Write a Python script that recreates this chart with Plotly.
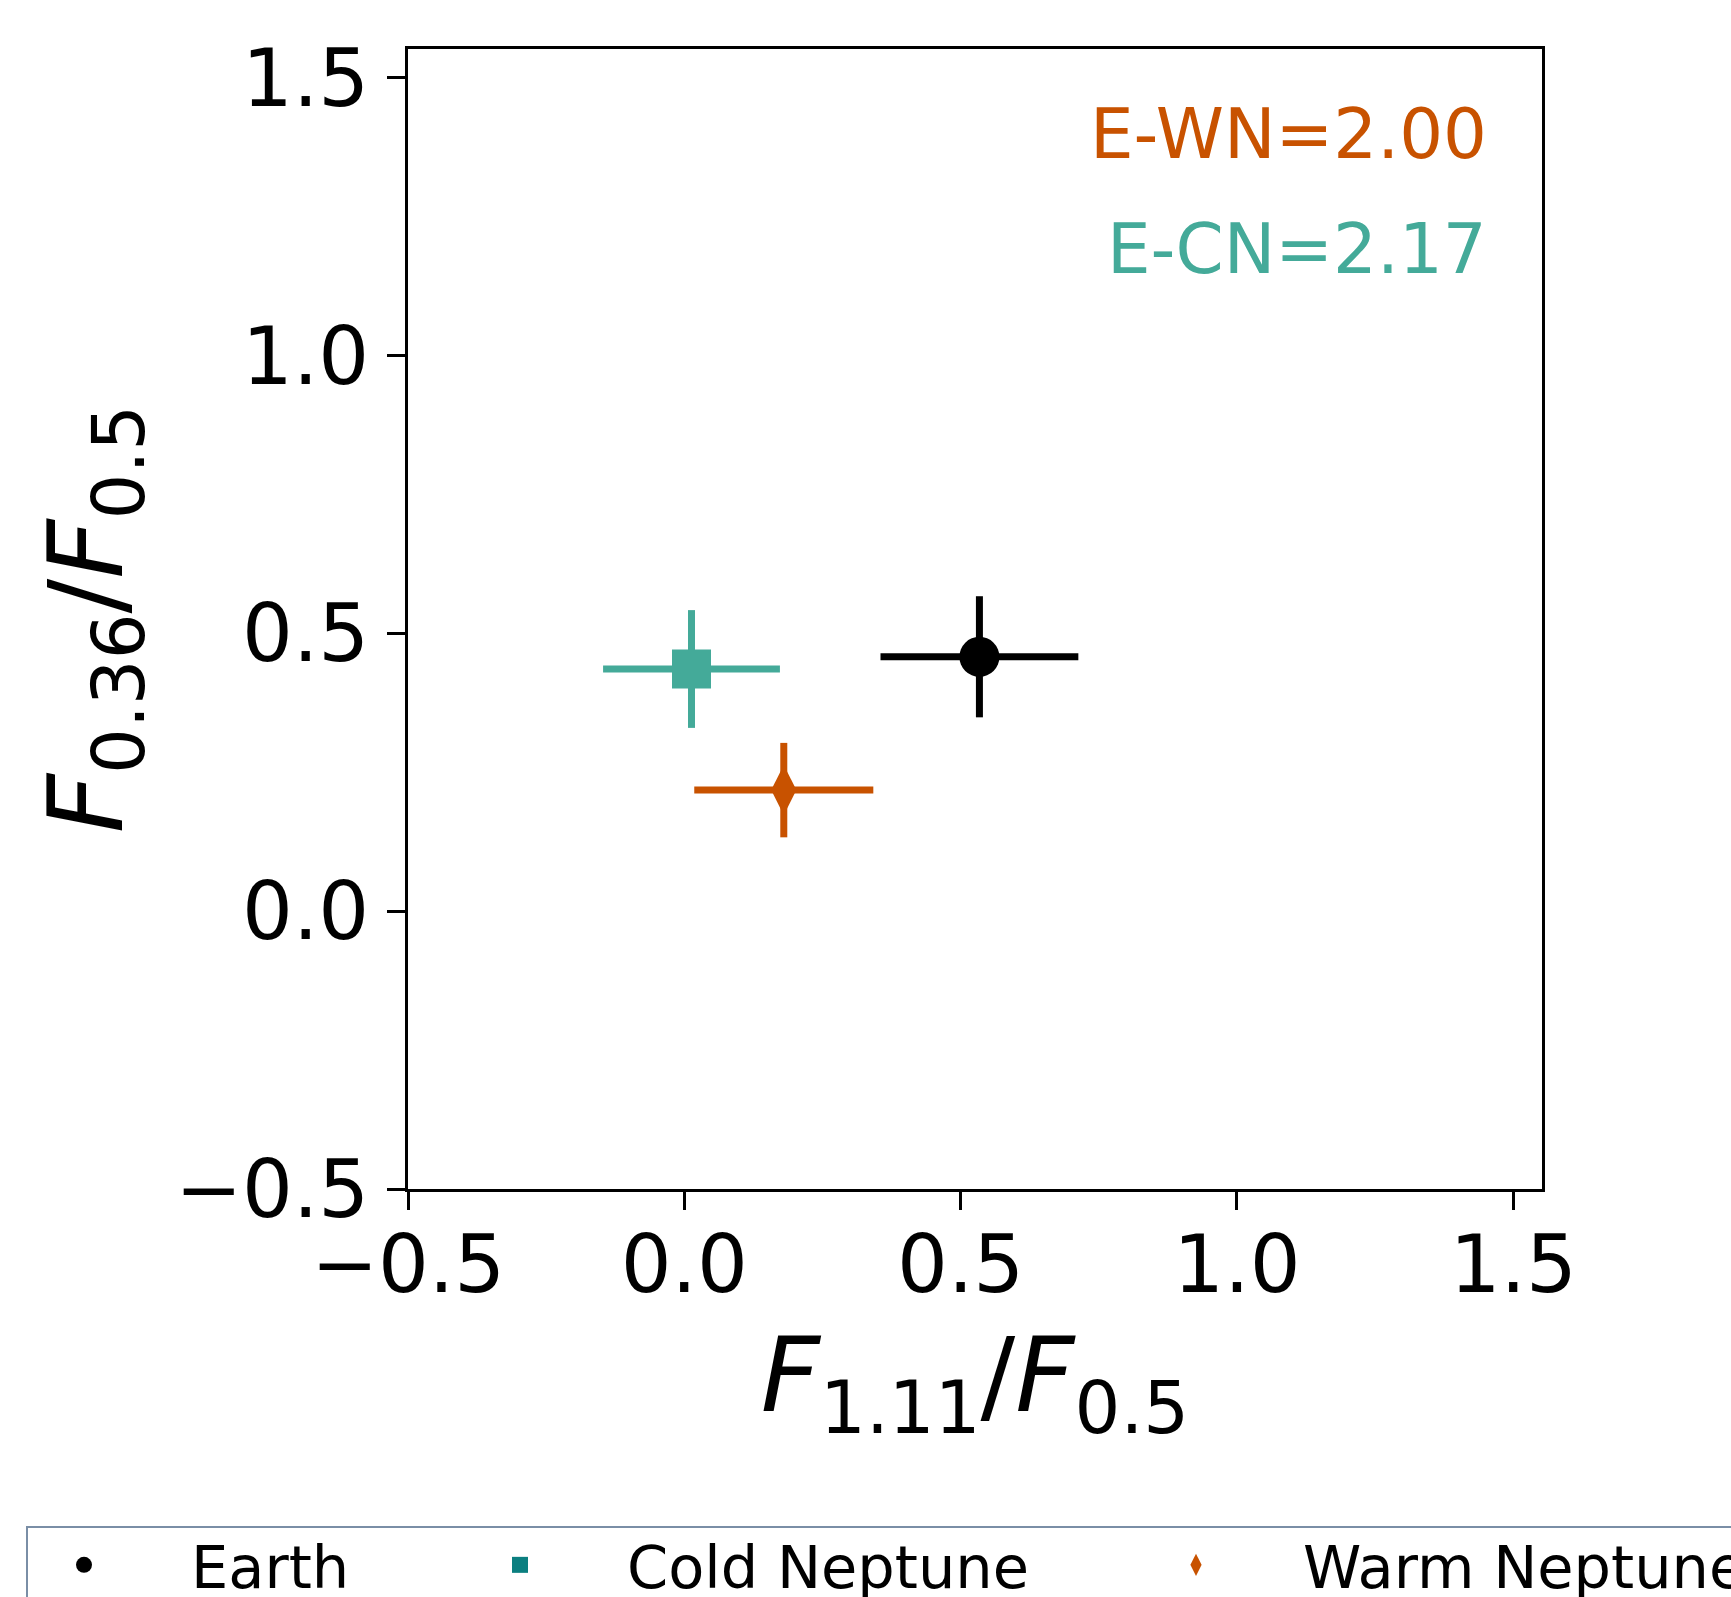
import plotly.graph_objects as go

# ---- data ----
names = ["Earth", "Cold Neptune", "Warm Neptune"]
x_vals = [0.534, 0.013, 0.180]
x_errs = [0.179, 0.160, 0.162]
y_vals = [0.458, 0.436, 0.218]
y_errs = [0.109, 0.106, 0.085]
symbols = ["circle", "square", "diamond-tall"]
marker_sizes = [40, 39, 36]
plot_colors = ["#000000", "#44AA99", "#C85200"]
legend_colors = ["#000000", "#0B7F80", "#C85200"]

tick_vals = [-0.5, 0.0, 0.5, 1.0, 1.5]
tick_text = ["\u22120.5", "0.0", "0.5", "1.0", "1.5"]
axis_range = [-0.5, 1.552]

distance_labels = ["E-WN=2.00", "E-CN=2.17"]
distance_colors = ["#C85200", "#44AA99"]

W, H = 1731, 1597
L, R, T, B = 408, 189, 49, 408
PW, PH = W - L - R, H - T - B
FONT = "DejaVu Sans"

fig = go.Figure()

for i in range(len(names)):
    fig.add_trace(go.Scatter(
        x=[x_vals[i]], y=[y_vals[i]], mode="markers",
        marker=dict(symbol=symbols[i], size=marker_sizes[i], color=plot_colors[i], line=dict(width=0)),
        error_x=dict(type="data", array=[x_errs[i]], color=plot_colors[i], thickness=7, width=0),
        error_y=dict(type="data", array=[y_errs[i]], color=plot_colors[i], thickness=7, width=0),
        showlegend=False, name=names[i], hoverinfo="skip",
    ))

legend_ids = ["legend", "legend2", "legend3"]
for i in range(len(names)):
    fig.add_trace(go.Scatter(
        x=[None], y=[None], mode="markers", name=names[i],
        marker=dict(symbol=symbols[i], size=16, color=legend_colors[i]),
        showlegend=True, legend=legend_ids[i],
    ))

axis_common = dict(
    range=axis_range, tickvals=tick_vals, ticktext=tick_text,
    showgrid=False, zeroline=False, showline=True, mirror=True,
    linecolor="black", linewidth=2.5, ticks="outside", ticklen=18, tickwidth=2.5,
    tickcolor="black", tickfont=dict(family=FONT, size=80, color="black"),
)

fig.update_xaxes(**axis_common, ticklabelstandoff=-14,
                 title=dict(text="<i>F</i><sub>1.11</sub>/<i>F</i><sub>0.5</sub>",
                            font=dict(family=FONT, size=103, color="black"), standoff=30))
fig.update_yaxes(**axis_common, ticklabelstandoff=2,
                 title=dict(text="<i>F</i><sub>0.36</sub>/<i>F</i><sub>0.5</sub>",
                            font=dict(family=FONT, size=103, color="black"), standoff=18))

ann_y = [0.925, 0.825]
for lbl, col, yy in zip(distance_labels, distance_colors, ann_y):
    fig.add_annotation(text=lbl, xref="paper", yref="paper", x=0.953, y=yy,
                       xanchor="right", yanchor="middle", showarrow=False,
                       font=dict(family=FONT, size=69, color=col))

leg_common = dict(orientation="h", xref="paper", yref="paper",
                  xanchor="left", yanchor="top", itemwidth=204, borderwidth=0,
                  bgcolor="rgba(0,0,0,0)",
                  font=dict(family=FONT, size=59, color="black"))
leg_left_px = [-23, 413, 1089]
leg_top_px = 1520
leg_y = 1 - (leg_top_px - T) / PH
fig.update_layout(
    legend=dict(**leg_common, x=(leg_left_px[0] - L) / PW, y=leg_y),
    legend2=dict(**leg_common, x=(leg_left_px[1] - L) / PW, y=leg_y),
    legend3=dict(**leg_common, x=(leg_left_px[2] - L) / PW, y=leg_y),
)

# legend frame
fig.add_shape(type="rect", xref="paper", yref="paper",
              x0=(27 - L) / PW, x1=(1760 - L) / PW,
              y0=1 - (1527 - T) / PH, y1=1 - (1640 - T) / PH,
              line=dict(color="#7A8EA6", width=2), fillcolor="rgba(0,0,0,0)", layer="below")

fig.update_layout(
    width=W, height=H,
    margin=dict(l=L, r=R, t=T, b=B, autoexpand=False),
    paper_bgcolor="white", plot_bgcolor="white",
    font=dict(family=FONT, color="black"),
)

fig.write_html("out.html", config={"displayModeBar": False},
               post_script="document.body.style.margin='0';")
